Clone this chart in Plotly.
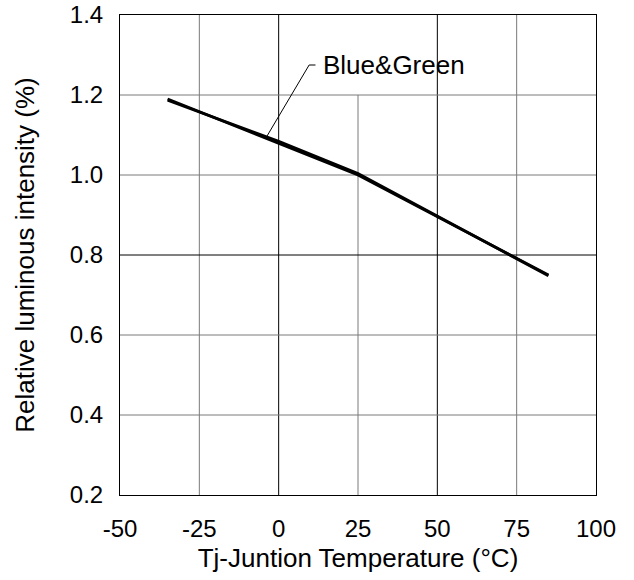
import plotly.graph_objects as go

# Data
temp_blue = [-35, 25, 85]
rel_blue = [1.19, 1.00, 0.75]
temp_green = [-35, 0, 25, 85]
rel_green = [1.187, 1.084, 1.004, 0.748]

x_ticks = [-50, -25, 0, 25, 50, 75, 100]
y_ticks = [0.2, 0.4, 0.6, 0.8, 1.0, 1.2, 1.4]
label_text = "Blue&Green"

FONT = "Arial, Liberation Sans, sans-serif"

fig = go.Figure()
fig.add_trace(go.Scatter(x=temp_blue, y=rel_blue, mode="lines",
                         line=dict(color="black", width=2.8), name="Blue", showlegend=False))
fig.add_trace(go.Scatter(x=temp_green, y=rel_green, mode="lines",
                         line=dict(color="black", width=2.8), name="Green", showlegend=False))

shapes = []
gray = "#7a7a7a"
for xv in x_ticks[1:-1]:
    col = "black" if xv in (0, 50) else gray
    y_top = 1.2 if xv == 25 else 1.4
    shapes.append(dict(type="line", xref="x", yref="y", x0=xv, x1=xv, y0=0.2, y1=y_top,
                       line=dict(color=col, width=1), layer="below"))
for yv in y_ticks[1:-1]:
    col = "black" if abs(yv - 0.8) < 1e-9 else gray
    shapes.append(dict(type="line", xref="x", yref="y", x0=-50, x1=100, y0=yv, y1=yv,
                       line=dict(color=col, width=1), layer="below"))

# leader line for label
shapes.append(dict(type="path", xref="x", yref="y",
                   path="M -4,1.093 L 9.6,1.275 L 11.6,1.275",
                   line=dict(color="black", width=1)))

fig.update_layout(
    width=634, height=580,
    margin=dict(l=120, r=38, t=15, b=85),
    paper_bgcolor="white", plot_bgcolor="white",
    font=dict(family=FONT, color="black", size=24),
    shapes=shapes,
    annotations=[dict(x=13.2, y=1.275, xref="x", yref="y", text=label_text,
                      showarrow=False, xanchor="left", yanchor="middle",
                      font=dict(size=26, family=FONT, color="black"))],
)
fig.update_xaxes(range=[-50, 100], tickvals=x_ticks, ticktext=[str(v) for v in x_ticks],
                 showgrid=False, zeroline=False, showline=True, linecolor="black",
                 linewidth=1, mirror=True, ticks="", ticklabelstandoff=12,
                 tickfont=dict(size=24), automargin=False,
                 title=dict(text="Tj-Juntion Temperature (°C)", font=dict(size=26), standoff=8))
fig.update_yaxes(range=[0.2, 1.4], tickvals=y_ticks, ticktext=[f"{v:.1f}" for v in y_ticks],
                 showgrid=False, zeroline=False, showline=True, linecolor="black",
                 linewidth=1, mirror=True, ticks="", ticklabelstandoff=11,
                 tickfont=dict(size=24), automargin=False,
                 title=dict(text="Relative luminous intensity (%)", font=dict(size=26), standoff=27))

fig.write_html("out.html", config={"displayModeBar": False},
               post_script="document.body.style.margin='0';document.body.style.overflow='hidden';")
